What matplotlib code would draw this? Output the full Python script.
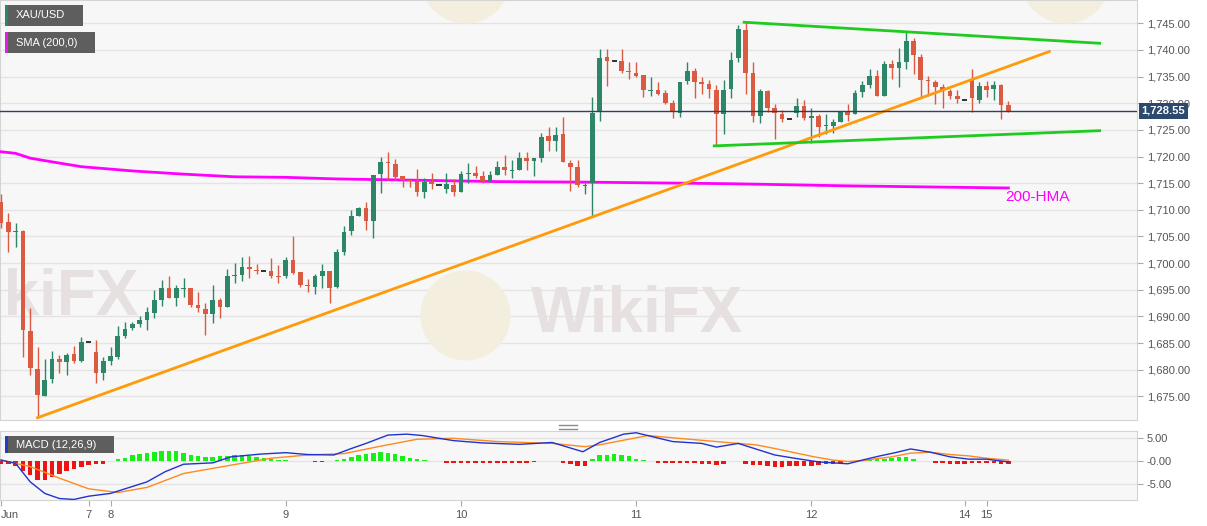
import numpy as np
import matplotlib.pyplot as plt
from matplotlib.patches import Rectangle
from matplotlib.lines import Line2D

plt.rcParams['font.family'] = ['Liberation Sans', 'DejaVu Sans']

# XAU/USD 1小时K线 (bar 序号 0..138)
opens = [1711.5, 1707.7, 1705.8, 1706.0, 1687.2, 1680.1, 1675.0, 1678.2, 1682.1, 1681.4,
         1682.9, 1681.6, 1685.2, 1683.3, 1679.3, 1681.6, 1682.3, 1686.3, 1687.8, 1688.5,
         1689.3, 1690.7, 1693.0, 1695.3, 1693.5, 1695.2, 1695.4, 1692.1, 1691.4, 1690.5,
         1693.1, 1691.7, 1697.6, 1697.8, 1699.3, 1698.7, 1698.5, 1698.5, 1697.6, 1697.5,
         1700.5, 1698.3, 1695.9, 1695.6, 1697.5, 1698.6, 1695.5, 1702.0, 1706.0, 1708.9,
         1710.3, 1707.9, 1716.7, 1718.9, 1718.6, 1716.3, 1715.6, 1715.5, 1713.4, 1715.3,
         1714.6, 1714.0, 1714.7, 1713.4, 1716.8, 1717.0, 1716.4, 1715.4, 1716.5, 1718.0,
         1717.4, 1717.5, 1719.7, 1719.2, 1719.8, 1723.9, 1722.9, 1724.2, 1718.8, 1718.1,
         1714.5, 1715.0, 1728.3, 1738.6, 1737.9, 1738.0, 1736.0, 1735.7, 1735.3, 1732.3,
         1732.5, 1731.9, 1730.1, 1728.2, 1734.2, 1736.1, 1733.9, 1733.7, 1732.5, 1728.0,
         1732.7, 1738.4, 1743.7, 1735.7, 1727.7, 1732.3, 1729.1, 1728.0, 1727.0, 1728.2,
         1729.5, 1727.2, 1727.6, 1725.7, 1725.8, 1726.4, 1728.3, 1727.9, 1732.1, 1733.5,
         1735.2, 1731.4, 1737.3, 1736.7, 1737.8, 1741.7, 1738.7, 1734.3, 1734.0, 1733.0,
         1732.3, 1731.4, 1730.6, 1734.4, 1730.7, 1733.2, 1732.6, 1733.4, 1729.7]
highs = [1713.0, 1709.4, 1707.5, 1706.2, 1691.5, 1684.2, 1682.0, 1683.5, 1682.7, 1683.1,
         1684.4, 1686.1, 1685.2, 1685.5, 1682.3, 1684.3, 1688.2, 1689.0, 1689.0, 1690.0,
         1691.7, 1695.0, 1696.8, 1697.5, 1695.9, 1697.2, 1695.4, 1694.6, 1692.5, 1695.9,
         1693.4, 1698.9, 1700.0, 1701.1, 1701.3, 1699.8, 1698.5, 1700.9, 1699.7, 1701.2,
         1705.0, 1698.4, 1697.0, 1698.0, 1699.8, 1698.6, 1702.6, 1707.0, 1710.0, 1710.6,
         1711.5, 1716.5, 1720.0, 1720.9, 1719.5, 1716.4, 1715.7, 1717.6, 1716.0, 1716.9,
         1714.6, 1716.9, 1715.7, 1717.3, 1718.7, 1718.3, 1717.2, 1717.2, 1719.2, 1720.2,
         1719.4, 1720.9, 1720.9, 1719.8, 1724.5, 1725.6, 1725.6, 1727.4, 1719.4, 1719.4,
         1715.0, 1731.2, 1740.1, 1740.1, 1737.9, 1740.1, 1737.8, 1737.7, 1735.3, 1735.0,
         1733.9, 1732.4, 1730.6, 1734.0, 1737.8, 1736.7, 1735.0, 1734.4, 1733.4, 1734.4,
         1739.7, 1744.7, 1745.2, 1737.8, 1732.7, 1732.5, 1729.9, 1728.7, 1727.0, 1730.9,
         1730.6, 1729.2, 1728.0, 1728.0, 1727.0, 1728.4, 1729.9, 1732.5, 1734.2, 1736.4,
         1736.2, 1737.9, 1738.1, 1740.4, 1743.3, 1742.3, 1739.2, 1735.2, 1734.4, 1733.7,
         1732.6, 1732.4, 1730.6, 1736.4, 1733.9, 1734.2, 1734.2, 1733.7, 1730.4]
lows = [1706.5, 1702.1, 1703.0, 1682.3, 1679.0, 1671.0, 1675.0, 1677.5, 1679.3, 1679.1,
        1681.2, 1681.4, 1685.2, 1677.6, 1678.0, 1680.8, 1682.0, 1685.9, 1687.5, 1688.1,
        1687.5, 1689.7, 1692.0, 1693.4, 1692.0, 1693.7, 1691.8, 1690.9, 1686.5, 1688.7,
        1689.7, 1691.7, 1696.2, 1696.7, 1697.2, 1698.0, 1698.5, 1697.2, 1696.3, 1697.2,
        1697.9, 1695.6, 1694.6, 1694.2, 1695.3, 1692.5, 1695.3, 1701.5, 1705.3, 1708.8,
        1706.2, 1704.7, 1713.1, 1715.6, 1715.6, 1714.2, 1714.2, 1712.6, 1712.2, 1714.0,
        1714.6, 1713.1, 1712.6, 1713.4, 1715.0, 1715.9, 1715.0, 1715.3, 1716.5, 1716.5,
        1715.9, 1717.5, 1717.5, 1716.4, 1718.9, 1721.1, 1721.1, 1718.9, 1713.5, 1714.2,
        1712.9, 1708.7, 1726.7, 1733.2, 1737.9, 1735.6, 1734.5, 1735.0, 1731.1, 1731.4,
        1731.5, 1729.9, 1727.2, 1727.5, 1733.7, 1731.0, 1731.7, 1730.9, 1722.0, 1724.2,
        1730.9, 1737.7, 1731.7, 1726.4, 1726.2, 1728.4, 1723.2, 1726.5, 1727.0, 1727.5,
        1726.9, 1722.6, 1723.6, 1724.2, 1724.4, 1726.4, 1726.7, 1727.9, 1731.2, 1732.9,
        1731.4, 1731.4, 1734.5, 1733.0, 1736.4, 1735.4, 1730.9, 1731.4, 1729.9, 1729.2,
        1730.8, 1730.0, 1730.6, 1728.3, 1730.1, 1731.2, 1730.6, 1727.0, 1728.3]
closes = [1707.5, 1705.8, 1706.0, 1687.4, 1680.3, 1675.2, 1678.0, 1682.1, 1681.4, 1682.7,
          1681.6, 1685.2, 1685.2, 1679.3, 1681.6, 1682.5, 1686.3, 1687.6, 1688.5, 1689.3,
          1690.8, 1693.0, 1695.3, 1693.5, 1695.3, 1695.4, 1692.1, 1691.5, 1690.5, 1693.0,
          1691.7, 1697.6, 1697.7, 1699.2, 1698.9, 1698.5, 1698.5, 1697.5, 1697.4, 1700.5,
          1698.2, 1695.9, 1695.7, 1697.5, 1698.5, 1695.3, 1702.0, 1705.9, 1708.9, 1710.3,
          1707.9, 1716.5, 1719.0, 1718.7, 1716.2, 1715.6, 1715.5, 1713.4, 1715.3, 1714.8,
          1714.6, 1714.8, 1713.4, 1716.7, 1716.9, 1716.4, 1715.4, 1716.5, 1718.1, 1717.5,
          1717.5, 1719.7, 1719.2, 1719.7, 1723.7, 1722.9, 1724.0, 1718.9, 1718.1, 1714.7,
          1714.7, 1728.2, 1738.5, 1738.0, 1737.9, 1736.1, 1735.8, 1735.2, 1732.5, 1732.5,
          1731.7, 1730.1, 1728.4, 1734.0, 1736.1, 1734.0, 1733.7, 1732.7, 1727.9, 1732.5,
          1738.2, 1743.9, 1735.7, 1727.7, 1732.3, 1729.2, 1728.1, 1727.0, 1727.0, 1729.5,
          1727.2, 1727.6, 1725.5, 1725.8, 1726.4, 1728.3, 1727.8, 1732.0, 1733.5, 1735.2,
          1731.4, 1737.3, 1736.7, 1737.7, 1741.7, 1739.1, 1734.4, 1734.2, 1733.0, 1732.5,
          1731.4, 1730.8, 1730.6, 1730.9, 1733.2, 1732.5, 1733.4, 1729.7, 1728.55]

# 200 均线 (读图取点)
sma_idx = [0, 2, 4, 7, 11, 18, 25, 32, 39, 46, 55, 68, 80, 100, 116, 138]
sma_val = [1720.9, 1720.6, 1719.7, 1719.0, 1718.1, 1717.3, 1716.7, 1716.2, 1716.1,
           1715.8, 1715.6, 1715.3, 1715.2, 1714.9, 1714.5, 1714.1]

# 趋势线 / 三角形
trend_x, trend_y = [5, 143.6], [1671.0, 1739.7]
top_x, top_y = [101.8, 150.5], [1745.2, 1741.25]
bot_x, bot_y = [97.7, 150.5], [1722.0, 1724.85]

# MACD (12,26,9)
macd_idx = [0, 2, 4, 6, 8, 10, 12, 15, 20, 22.5, 25, 29, 31.5, 35.6, 39, 42, 45.6, 48, 50, 53,
            55.6, 57.7, 62, 66, 71, 75.5, 79.7, 82, 85.3, 87, 92, 96, 98, 101, 102.4, 106,
            108.7, 112, 116, 118, 120.4, 122.5, 124.6, 127.3, 130, 132.6, 135, 138]
macd_val = [0.2, -0.5, -4.5, -7.0, -8.1, -8.3, -7.6, -7.0, -4.5, -2.3, -0.7, -0.4, 0.9, 1.5,
            1.8, 1.4, 1.3, 2.7, 3.8, 5.6, 5.8, 5.5, 4.4, 3.9, 3.6, 4.0, 2.0, 4.0, 5.8, 6.1,
            4.2, 3.8, 3.0, 3.8, 3.1, 1.3, 0.6, -0.2, -0.6, 0.2, 1.1, 1.8, 2.6, 1.9, 0.9, 0.4,
            0.4, -0.2]
signal_idx = [0, 4, 8, 12, 16, 20, 25, 31.5, 37, 42, 47, 52, 57, 62, 68, 75.5, 80, 82, 88.6,
              92.8, 98, 101, 103.4, 106, 108.7, 111.4, 114, 116, 118, 122, 124.6, 127.3,
              130, 132.6, 135, 138]
signal_val = [0.2, -1.2, -3.7, -6.0, -6.8, -5.7, -2.7, -0.9, 0.6, 1.3, 1.6, 3.2, 4.7, 4.9,
              4.2, 3.8, 3.1, 3.5, 5.5, 4.9, 4.2, 3.8, 3.5, 2.7, 1.8, 0.9, 0.2, -0.1, 0.1,
              0.9, 1.7, 1.9, 1.4, 1.1, 0.6, 0.2]
hist = [-0.7, -0.7, -1.1, -2.2, -3.1, -4.1, -4.1, -3.4, -2.9, -2.2,
        -1.8, -1.3, -0.9, -0.7, -0.6, -0.1, 0.4, 0.7, 1.2, 1.6,
        1.8, 2.0, 2.2, 2.2, 2.1, 1.8, 1.4, 1.1, 0.9, 0.9,
        1.0, 1.1, 1.2, 1.2, 1.1, 0.8, 0.6, 0.4, 0.3, 0.15,
        0.05, -0.05, -0.1, -0.2, -0.3, -0.1, 0.2, 0.5, 0.9, 1.2,
        1.6, 1.8, 1.9, 1.8, 1.6, 1.1, 0.7, 0.4, 0.15, 0.0,
        -0.1, -0.4, -0.5, -0.5, -0.5, -0.5, -0.5, -0.5, -0.5, -0.5,
        -0.5, -0.5, -0.4, -0.3, 0.1, 0.1, -0.1, -0.4, -0.6, -1.0,
        -1.1, 0.5, 1.2, 1.4, 1.6, 1.4, 1.0, 0.5, 0.15, -0.05,
        -0.35, -0.5, -0.5, -0.5, -0.5, -0.5, -0.6, -0.7, -0.8, -0.6,
        -0.05, 0.0, -0.6, -0.8, -0.9, -1.15, -1.3, -1.2, -1.15, -1.15,
        -1.1, -1.0, -0.9, -0.7, -0.6, -0.4, -0.15, 0.0, 0.15, 0.3,
        0.35, 0.5, 0.65, 0.8, 0.85, 0.45, 0.0, -0.1, -0.35, -0.5,
        -0.6, -0.6, -0.6, -0.5, -0.5, -0.45, -0.5, -0.65, -0.6]

day_ticks = [0, 12, 15, 39, 63, 87, 111, 132, 135]
day_labels = ['Jun', '7', '8', '9', '10', '11', '12', '14', '15']

W, H = 1207, 526
GREEN = '#2e8669'
RED = '#db5a42'
BG = '#f7f7f7'
GRID = '#e4e4e4'
TXT = '#555555'


def fig_box(x0, y0, x1, y1):
    # 像素框 -> figure 坐标
    return [x0 / W, 1 - y1 / H, (x1 - x0) / W, (y1 - y0) / H]


fig = plt.figure(figsize=(W / 100, H / 100), dpi=100)
ax = fig.add_axes(fig_box(0, 0, 1137, 420))
ax2 = fig.add_axes(fig_box(0, 431, 1137, 500))

xlim = (-1 / 7.3, 1136 / 7.3)

# ---------- 主图 ----------
o, h, l, c = map(np.array, (opens, highs, lows, closes))
idx = np.arange(len(o))
brk = h == l  # 每日休市处的横线
col = np.where(c >= o, GREEN, RED)
n = ~brk
ax.vlines(idx[n], l[n], h[n], colors=col[n], lw=1, zorder=4)
body = np.abs(c - o)
bh = np.maximum(body, 0.2)
blo = np.minimum(o, c) - (bh - body) / 2
ax.bar(idx[n], bh[n], bottom=blo[n], width=0.64, color=col[n], lw=0, zorder=5)
ax.hlines(c[brk], idx[brk] - 0.35, idx[brk] + 0.35, colors='#222222', lw=1.3, zorder=5)

ax.plot(sma_idx, sma_val, color='#ff00ff', lw=2, zorder=3)
ax.plot(trend_x, trend_y, color='#ff9a0a', lw=2, zorder=6)
ax.plot(top_x, top_y, color='#1ecb1e', lw=2, zorder=6)
ax.plot(bot_x, bot_y, color='#1ecb1e', lw=2, zorder=6)
ax.axhline(closes[-1], color='#2c4262', lw=1, zorder=6)
ax.text(137.5, 1712.4, '200-HMA', color='#ff00ff', fontsize=11, ha='left', va='center', zorder=7)

# 水印
ax.scatter([63.6, 63.6, 145.7], [1690.2, 1753.5, 1753.5], s=4200, color='#f4eedf',
           lw=0, zorder=1)
ax.text(87.2, 1690.2, 'WikiFX', fontsize=46, fontweight='bold', color='#e6e0e0',
        ha='center', va='center', zorder=1)
ax.text(19.0, 1693.5, 'WikiFX', fontsize=46, fontweight='bold', color='#e6e0e0',
        ha='right', va='center', zorder=1)

ax.set_xlim(*xlim)
ax.set_ylim(1670.57, 1749.37)
ax.set_facecolor(BG)
ax.set_yticks(np.arange(1675, 1746, 5))
ax.set_yticklabels([f'{v:,.2f}' for v in np.arange(1675, 1746, 5)])
ax.yaxis.tick_right()
ax.tick_params(axis='y', length=4, color='#aaaaaa', labelsize=8, labelcolor=TXT, pad=3)
ax.tick_params(axis='x', bottom=False, labelbottom=False)
ax.grid(axis='y', color=GRID, lw=1)
ax.set_axisbelow(True)
for s in ax.spines.values():
    s.set_color('#d4d4d4')

ax.annotate(f'{closes[-1]:,.2f}', xy=(1, closes[-1]), xycoords=('axes fraction', 'data'),
            xytext=(3.2, 0), textcoords='offset points', ha='left', va='center',
            color='white', fontsize=8, fontweight='bold', zorder=10, annotation_clip=False,
            bbox=dict(boxstyle='square,pad=0.25', fc='#2b4a6e', ec='none'))

# ---------- MACD ----------
hv = np.array(hist)
ax2.bar(np.arange(len(hv)), hv, width=0.62, color=np.where(hv >= 0, '#18ee18', '#ee1414'),
        lw=0, zorder=3)
ax2.plot(signal_idx, signal_val, color='#ff8a1e', lw=1, zorder=4)
ax2.plot(macd_idx, macd_val, color='#2233cc', lw=1, zorder=5)
ax2.set_xlim(*xlim)
ax2.set_ylim(-8.42, 6.48)
ax2.set_facecolor(BG)
ax2.set_yticks([5, 0, -5])
ax2.set_yticklabels(['5.00', '-0.00', '-5.00'])
ax2.yaxis.tick_right()
ax2.tick_params(axis='y', length=4, color='#aaaaaa', labelsize=8, labelcolor=TXT, pad=3)
ax2.set_xticks(day_ticks)
ax2.set_xticklabels(day_labels)
ax2.tick_params(axis='x', length=4, color='#aaaaaa', labelsize=8, labelcolor=TXT, pad=3)
ax2.get_xticklabels()[0].set_ha('left')
ax2.grid(axis='y', color=GRID, lw=1)
ax2.set_axisbelow(True)
for s in ax2.spines.values():
    s.set_color('#d4d4d4')


# 左上角图例框
def label_box(x0, y0, x1, y1, stripe, text):
    fig.add_artist(Rectangle((x0 / W, 1 - y1 / H), (x1 - x0) / W, (y1 - y0) / H,
                             transform=fig.transFigure, fc='#5e5e5e', ec='none', zorder=10))
    fig.add_artist(Rectangle((x0 / W, 1 - y1 / H), 2.5 / W, (y1 - y0) / H,
                             transform=fig.transFigure, fc=stripe, ec='none', zorder=11))
    fig.text((x0 + 11) / W, 1 - (y0 + y1) / 2 / H, text, color='white', fontsize=8,
             ha='left', va='center', zorder=12)


label_box(5, 5, 83, 26, '#2d8469', 'XAU/USD')
label_box(5, 32, 95, 53, '#e020e0', 'SMA (200,0)')
label_box(5, 436, 114, 453, '#2040c0', 'MACD (12,26,9)')

# 面板之间的拖动手柄
for yy in (425, 428.5):
    fig.add_artist(Line2D([559 / W, 577 / W], [1 - yy / H, 1 - yy / H], color='#8a8a8a',
                          lw=1, transform=fig.transFigure))

fig.savefig('out.png', dpi=100, facecolor='white')
